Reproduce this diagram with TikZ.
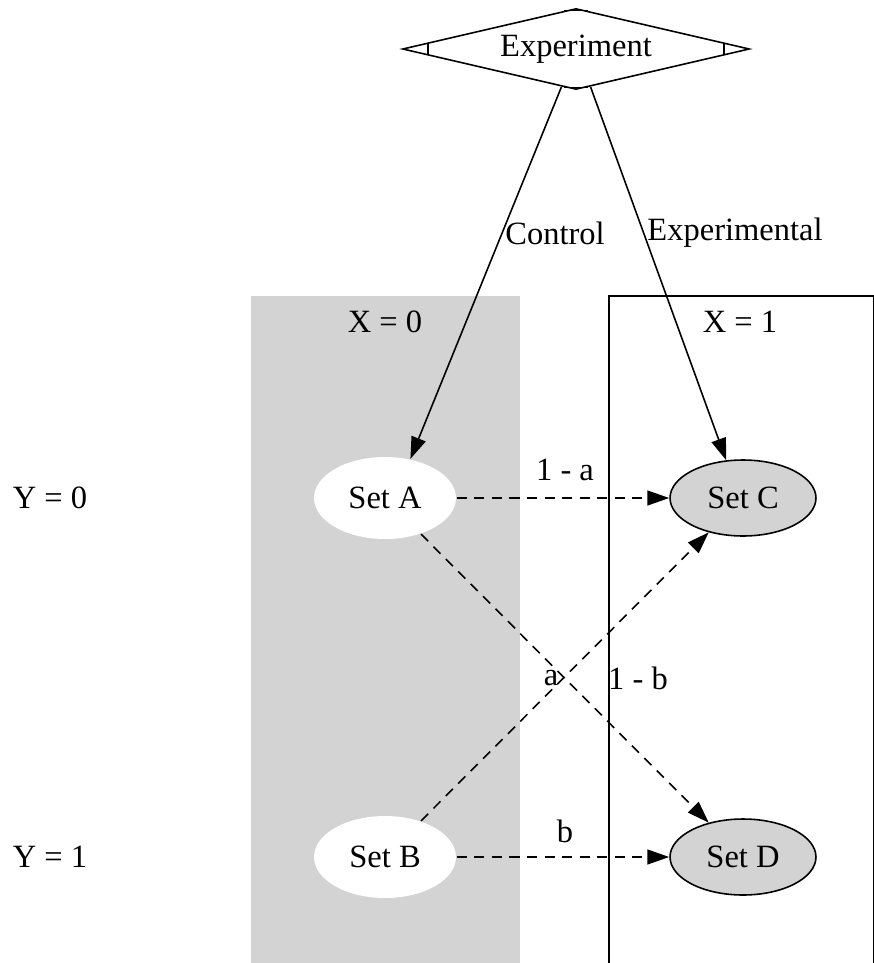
\documentclass[tikz,border=0pt]{standalone}
\usepackage{fontspec}
\setmainfont{Liberation Serif}
\usetikzlibrary{arrows.meta, shapes.geometric, calc}
\definecolor{clustergray}{RGB}{211,211,211}
\tikzset{
    setnode/.style={ellipse, minimum width=2.84cm, minimum height=1.64cm, inner sep=0pt}, % 对照组的集合
    treated/.style={setnode, draw, fill=clustergray, minimum width=2.92cm, minimum height=1.52cm}, % 实验组的集合
    edge/.style={-{Triangle[length=12.5pt, width=8.5pt]}}, % 实线箭头
    dashededge/.style={edge, dash pattern=on 5.7pt off 4.3pt} % 虚线箭头
}

\begin{document}
\begin{tikzpicture}[x=0.02cm, y=-0.02cm, font=\fontsize{18.5}{22}\selectfont, line width=0.9pt]
    \useasboundingbox (0,0) rectangle (874,963);
    \clip (0,0) rectangle (874,963);

    \fill[clustergray] (251,296) rectangle (520,970);
    \draw (609,970) -- (609,296) -- (874,296) -- (874,970);

    \node[draw, diamond, aspect=4.3, minimum width=6.94cm, minimum height=1.62cm, inner sep=0pt, fill=white] (exp) at (576,49) {Experiment};
    \draw ($(exp.west)!0.15!(exp.north)$) -- ($(exp.west)!0.15!(exp.south)$);
    \draw ($(exp.east)!0.15!(exp.north)$) -- ($(exp.east)!0.15!(exp.south)$);
    \draw ($(exp.north)!0.07!(exp.west)$) -- ($(exp.north)!0.07!(exp.east)$);
    \draw ($(exp.south)!0.07!(exp.west)$) -- ($(exp.south)!0.07!(exp.east)$);

    \node[setnode, fill=white] (setA) at (385,498) {Set A};
    \node[setnode, fill=white] (setB) at (385,857) {Set B};
    \node[treated] (setC) at (743,498) {Set C};
    \node[treated] (setD) at (743,857) {Set D};

    \node (y0) at (50,498) {Y = 0};
    \node (y1) at (50,857) {Y = 1};
    \node (x0) at (385,322) {X = 0};
    \node (x1) at (740,322) {X = 1};

    \draw[edge] (exp.-111) -- (setA.57);
    \draw[edge] (exp.-69) -- (setC.114);
    \draw[dashededge] (setA) -- (setC);
    \draw[dashededge] (setA) -- (setD);
    \draw[dashededge] (setB) -- (setC);
    \draw[dashededge] (setB) -- (setD);

    \node (lctrl) at (555,233) {Control};
    \node (lexp) at (735,233) {Experimental};
    \node (l1a) at (565,470) {1 - a};
    \node (la) at (551,678) {a};
    \node (l1b) at (638,678) {1 - b};
    \node (lb) at (565,831) {b};
\end{tikzpicture}
\end{document}
